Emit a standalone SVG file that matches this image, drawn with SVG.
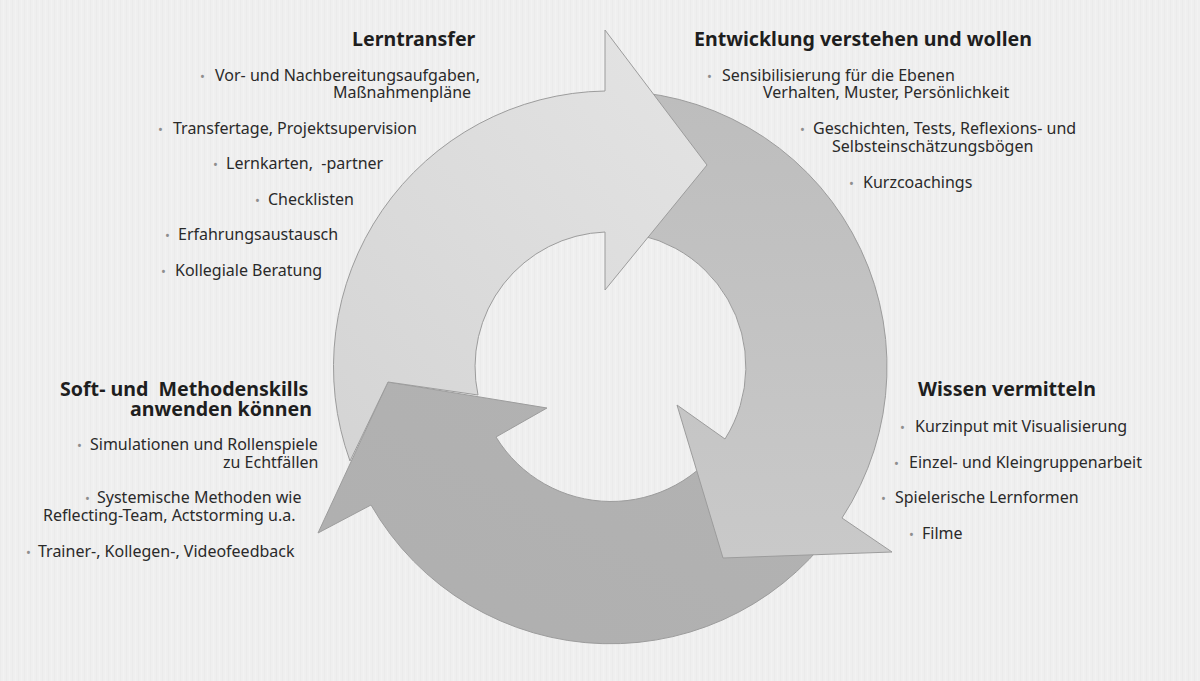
<svg xmlns="http://www.w3.org/2000/svg" width="1200" height="681" viewBox="0 0 1200 681">
<defs>
<linearGradient id="g1" x1="0" y1="1" x2="1" y2="0">
<stop offset="0" stop-color="#d4d4d4"/>
<stop offset="1" stop-color="#e4e4e4"/>
</linearGradient>
<linearGradient id="g2" x1="0" y1="0" x2="0" y2="1">
<stop offset="0" stop-color="#bdbdbd"/>
<stop offset="1" stop-color="#c9c9c9"/>
</linearGradient>
<linearGradient id="g3" x1="1" y1="0" x2="0" y2="1">
<stop offset="0" stop-color="#b3b3b3"/>
<stop offset="1" stop-color="#afafaf"/>
</linearGradient>
<pattern id="tex" width="6" height="6" patternUnits="userSpaceOnUse">
<rect width="6" height="6" fill="#efefef"/>
<rect x="0" width="1" height="6" fill="#ebebeb"/>
<rect x="3" width="1" height="6" fill="#f2f2f2"/>
</pattern>
</defs>
<style>
.arr{stroke:#9c9c9c;stroke-width:1;stroke-linejoin:miter}
.h{font-family:"Noto Sans","Open Sans","DejaVu Sans",sans-serif;font-weight:bold;font-size:19.6px;fill:#1e1e1e}
.t{font-family:"Noto Sans","Open Sans","DejaVu Sans",sans-serif;font-size:16px;fill:#2a2a2a}
.b{fill:#8e8e8e;font-size:13px}
</style>
<rect width="1200" height="681" fill="url(#tex)"/>
<g id="connectors">
<path id="arrow3" class="arr" fill="url(#g3)" d="M 842,518 A 276 276 0 0 1 371,505 L 318,533 L 388,382 L 547,408 L 496,437 A 135 135 0 0 0 725,439 Z"/>
<path id="arrow2" class="arr" fill="url(#g2)" d="M 605,91 A 276 276 0 0 1 842,518 L 892,552 L 723,558 L 677,405 L 725,439 A 135 135 0 0 0 605,232 Z"/>
<path id="arrow1" class="arr" fill="url(#g1)" d="M 350,461 A 276 276 0 0 1 605,91 L 605,30 L 707,165 L 605,290 L 605,232 A 135 135 0 0 0 478,395 L 388,382 Z"/>
</g>
<g id="lerntransfer">
<text class="h" x="352" y="46">Lerntransfer</text>
<text class="t" y="81"><tspan class="b" x="200">•</tspan><tspan x="215">Vor- und Nachbereitungsaufgaben,</tspan></text>
<text class="t" x="333" y="98">Maßnahmenpläne</text>
<text class="t" y="134"><tspan class="b" x="158">•</tspan><tspan x="173">Transfertage, Projektsupervision</tspan></text>
<text class="t" y="169" xml:space="preserve"><tspan class="b" x="213">•</tspan><tspan x="226">Lernkarten,  -partner</tspan></text>
<text class="t" y="205"><tspan class="b" x="255">•</tspan><tspan x="268">Checklisten</tspan></text>
<text class="t" y="240"><tspan class="b" x="165">•</tspan><tspan x="178">Erfahrungsaustausch</tspan></text>
<text class="t" y="276"><tspan class="b" x="161">•</tspan><tspan x="175">Kollegiale Beratung</tspan></text>
</g>
<g id="entwicklung">
<text class="h" x="694" y="46">Entwicklung verstehen und wollen</text>
<text class="t" y="81"><tspan class="b" x="707">•</tspan><tspan x="722">Sensibilisierung für die Ebenen</tspan></text>
<text class="t" x="763" y="98">Verhalten, Muster, Persönlichkeit</text>
<text class="t" y="134"><tspan class="b" x="800">•</tspan><tspan x="813">Geschichten, Tests, Reflexions- und</tspan></text>
<text class="t" x="832" y="152">Selbsteinschätzungsbögen</text>
<text class="t" y="188"><tspan class="b" x="849">•</tspan><tspan x="863">Kurzcoachings</tspan></text>
</g>
<g id="wissen">
<text class="h" x="918" y="396">Wissen vermitteln</text>
<text class="t" y="432"><tspan class="b" x="900">•</tspan><tspan x="915">Kurzinput mit Visualisierung</tspan></text>
<text class="t" y="468"><tspan class="b" x="894">•</tspan><tspan x="909">Einzel- und Kleingruppenarbeit</tspan></text>
<text class="t" y="503"><tspan class="b" x="881">•</tspan><tspan x="895">Spielerische Lernformen</tspan></text>
<text class="t" y="539"><tspan class="b" x="909">•</tspan><tspan x="922">Filme</tspan></text>
</g>
<g id="softskills">
<text class="h" x="60" y="396" xml:space="preserve">Soft- und  Methodenskills</text>
<text class="h" x="130" y="416">anwenden können</text>
<text class="t" y="450"><tspan class="b" x="77">•</tspan><tspan x="90">Simulationen und Rollenspiele</tspan></text>
<text class="t" x="223" y="468">zu Echtfällen</text>
<text class="t" y="503"><tspan class="b" x="85">•</tspan><tspan x="97">Systemische Methoden wie</tspan></text>
<text class="t" x="43" y="521">Reflecting-Team, Actstorming u.a.</text>
<text class="t" y="557"><tspan class="b" x="26">•</tspan><tspan x="38">Trainer-, Kollegen-, Videofeedback</tspan></text>
</g>
</svg>
